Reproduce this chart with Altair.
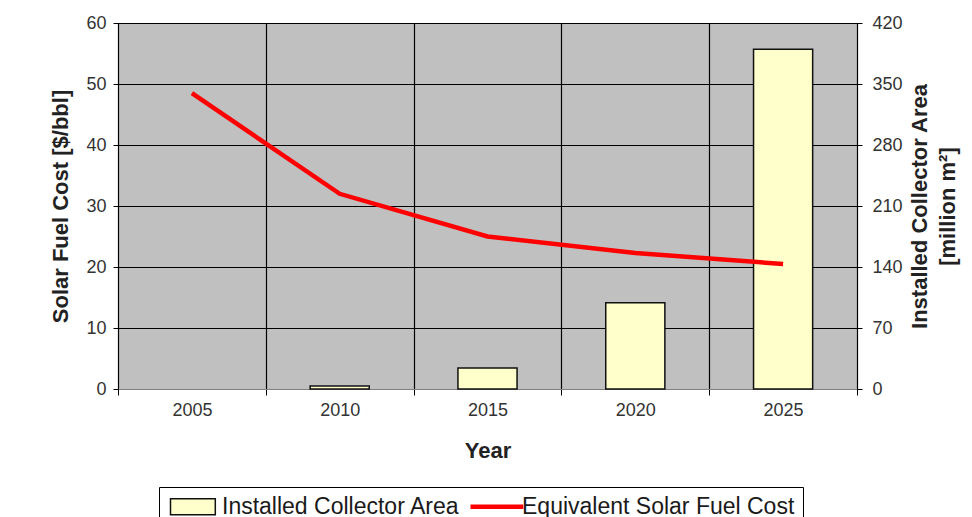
import altair as alt
import pandas as pd

# ---------------- data ----------------
years = ["2005", "2010", "2015", "2020", "2025"]
collector_area = [0, 3.5, 24, 99, 390]        # million m² (right axis)
fuel_cost = [48.5, 32, 25, 22.3, 20.5]        # $/bbl (left axis)
series_names = ["Installed Collector Area", "Equivalent Solar Fuel Cost"]
cost_ticks = [0, 10, 20, 30, 40, 50, 60]
area_ticks = [0, 70, 140, 210, 280, 350, 420]

bars_df = pd.DataFrame({"Year": years, "value": collector_area, "series": series_names[0]})
line_df = pd.DataFrame({"Year": years, "value": fuel_cost, "series": series_names[1]})

FONT = "Liberation Sans"

legend = alt.Legend(
    title=None, orient="none", legendX=41, legendY=464,
    direction="horizontal", columns=2, padding=8,
    strokeColor="#000000", fillColor="#ffffff",
    symbolSize=256, symbolOffset=0,
    symbolFillColor="#ffffff", symbolStrokeColor="#000000", symbolOpacity=1,
    labelFont=FONT, labelFontSize=23, labelColor="#1a1a1a",
    labelOffset=32, labelLimit=400, columnPadding=1,
)

fill_scale = alt.Scale(domain=series_names, range=["#FFFFCC", "transparent"])
stroke_scale = alt.Scale(domain=series_names, range=["#111111", "#FF0000"])
width_scale = alt.Scale(domain=series_names, range=[1.5, 4.5])
shape_scale = alt.Scale(domain=series_names, range=["M-1,-1H4.6V1H-1Z", "M-1,0H5.6"])

x_enc = alt.X(
    "Year:N", sort=years,
    scale=alt.Scale(paddingInner=0, paddingOuter=0),
    axis=alt.Axis(
        title="Year", labelAngle=0, tickBand="extent",
        grid=True, gridColor="#000000", gridWidth=1.2,
        domainColor="#808080", tickColor="#000000", tickSize=6,
        labelPadding=6, labelFontSize=18, labelColor="#333333",
        titleFontSize=22, titleFontWeight="bold", titleColor="#222222", titlePadding=21,
    ),
)

bars = alt.Chart(bars_df).transform_filter("datum.value > 0").mark_bar(width={"band": 0.4}).encode(
    x=x_enc,
    y=alt.Y(
        "value:Q", scale=alt.Scale(domain=[0, 420], nice=False),
        axis=alt.Axis(
            orient="right", values=area_ticks, grid=False,
            title=["Installed Collector Area", "[million m²]"],
            titleAngle=270, titleBaseline="top", titleLineHeight=28,
            titleFontSize=22, titleFontWeight="bold", titleColor="#222222", titlePadding=-21,
            labelFontSize=18, labelColor="#333333", labelPadding=10,
            tickSize=5, tickColor="#000000", domainColor="#000000",
        ),
    ),
    fill=alt.Fill("series:N", scale=fill_scale, legend=legend),
    stroke=alt.Stroke("series:N", scale=stroke_scale, legend=legend),
    strokeWidth=alt.StrokeWidth("series:N", scale=width_scale, legend=legend),
)

line = alt.Chart(line_df).mark_line().encode(
    x=x_enc,
    y=alt.Y(
        "value:Q", scale=alt.Scale(domain=[0, 60], nice=False),
        axis=alt.Axis(
            orient="left", values=cost_ticks, grid=True,
            gridColor={"condition": {"test": "datum.value === 0", "value": "#808080"}, "value": "#000000"},
            gridWidth=1.2,
            title="Solar Fuel Cost [$/bbl]",
            titleFontSize=22, titleFontWeight="bold", titleColor="#222222", titlePadding=13,
            labelFontSize=18, labelColor="#333333", labelPadding=7,
            tickSize=5, tickColor="#000000", domainColor="#000000",
        ),
    ),
    stroke=alt.Stroke("series:N", scale=stroke_scale, legend=legend),
    strokeWidth=alt.StrokeWidth("series:N", scale=width_scale, legend=legend),
)

shapes = alt.Chart(line_df).transform_filter("false").mark_point().encode(
    x=x_enc,
    y=alt.Y("value:Q", axis=None),
    shape=alt.Shape("series:N", scale=shape_scale, legend=legend),
    fill=alt.Fill("series:N", scale=fill_scale, legend=legend),
    stroke=alt.Stroke("series:N", scale=stroke_scale, legend=legend),
)

chart = (
    alt.layer(bars, line, shapes)
    .resolve_scale(y="independent")
    .properties(
        width=739, height=366,
        autosize=alt.AutoSizeParams(type="none"),
        padding={"left": 110, "top": 15, "right": 107, "bottom": 137},
    )
    .configure(font=FONT)
    .configure_view(fill="#C0C0C0", stroke="#000000")
    .configure_axis(labelFont=FONT, titleFont=FONT)
)

chart.save("out.html", embed_options={"renderer": "svg", "actions": False})
